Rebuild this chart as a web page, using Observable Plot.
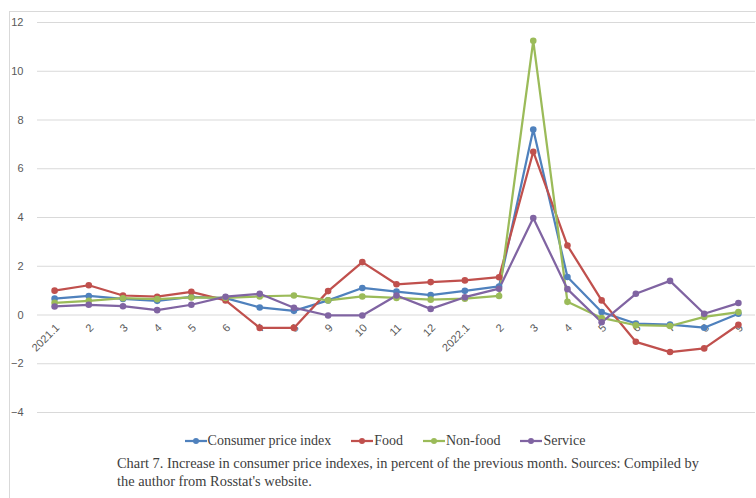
<!DOCTYPE html>
<html>
<head>
<meta charset="utf-8">
<script src="https://cdn.jsdelivr.net/npm/d3@7"></script>
<script src="https://cdn.jsdelivr.net/npm/@observablehq/plot@0.6"></script>
<style>
  html, body { margin: 0; padding: 0; background: #fff; }
  #wrap { position: relative; width: 756px; height: 498px; overflow: hidden; }
  #frame { position: absolute; left: 9px; top: 11px; width: 760px; height: 500px;
           border-left: 1px solid #d9d9d9; border-top: 1px solid #d9d9d9; }
  #chart { position: absolute; left: 0; top: 0; }
  #legend { position: absolute; left: 0; width: 770px; top: 433px; text-align: center;
            font-family: "Liberation Serif", serif; font-size: 14px; color: #404040; white-space: nowrap; }
  #legend span.item { display: inline-block; margin: 0 10px; }
  #legend svg { vertical-align: middle; margin-right: 1px; position: relative; top: -1px; }
  #caption { position: absolute; left: 117px; top: 454px; font-family: "Liberation Serif", serif;
             font-size: 14.4px; line-height: 18px; color: #404040; white-space: nowrap; }
</style>
</head>
<body>
<div id="wrap">
  <div id="frame"></div>
  <div id="chart"></div>
  <div id="legend"></div>
  <div id="caption">Chart 7. Increase in consumer price indexes, in percent of the previous month. Sources: Compiled by<br>the author from Rosstat's website.</div>
</div>
<script>
const monthLabels = ["2021.1","2","3","4","5","6","7","8","9","10","11","12","2022.1","2","3","4","5","6","7","8","9"];
const seriesNames = ["Consumer price index", "Food", "Non-food", "Service"];
const seriesColors = ["#4f81bd", "#c0504d", "#9bbb59", "#8064a2"];
const cpi     = [0.67, 0.78, 0.66, 0.58, 0.74, 0.69, 0.31, 0.17, 0.60, 1.11, 0.96, 0.82, 0.99, 1.17, 7.61, 1.56, 0.12, -0.35, -0.39, -0.52, 0.05];
const food    = [1.00, 1.22, 0.80, 0.75, 0.95, 0.60, -0.53, -0.53, 0.98, 2.17, 1.26, 1.35, 1.42, 1.55, 6.70, 2.85, 0.60, -1.10, -1.52, -1.37, -0.40];
const nonfood = [0.50, 0.58, 0.69, 0.65, 0.72, 0.70, 0.76, 0.80, 0.60, 0.76, 0.70, 0.63, 0.67, 0.78, 11.25, 0.54, -0.12, -0.42, -0.45, -0.08, 0.12];
const service = [0.35, 0.42, 0.36, 0.20, 0.42, 0.75, 0.87, 0.30, -0.02, -0.02, 0.80, 0.25, 0.73, 1.08, 3.98, 1.06, -0.30, 0.87, 1.40, 0.05, 0.49];
const yTicks = [-4, -2, 0, 2, 4, 6, 8, 10, 12];

const seriesValues = [cpi, food, nonfood, service];
const rows = [];
seriesNames.forEach((name, s) => seriesValues[s].forEach((v, i) => rows.push({series: name, i, v})));

const chart = Plot.plot({
  width: 756,
  height: 430,
  marginLeft: 37,
  marginRight: 1,
  marginTop: 22,
  marginBottom: 18,
  style: {fontFamily: "'Liberation Sans', sans-serif", fontSize: "11px", color: "#595959", background: "transparent"},
  x: {domain: [-0.5, monthLabels.length - 0.5], axis: null},
  y: {domain: [-4, 12], ticks: yTicks, tickSize: 0, tickPadding: 14, label: null, tickFormat: d => d},
  color: {domain: seriesNames, range: seriesColors},
  marks: [
    Plot.ruleY(yTicks, {stroke: "#d9d9d9", strokeWidth: 1}),
    Plot.axisY({ticks: yTicks, tickSize: 0, tickPadding: 14, label: null, fill: "#595959", textAnchor: "end"}),
    Plot.text(monthLabels, {x: (d, i) => i, y: () => 0, text: d => d, rotate: -45, textAnchor: "end",
      lineAnchor: "middle", dx: 3, dy: 11, fill: "#595959", fontSize: 11}),
    Plot.line(rows, {x: "i", y: "v", z: "series", stroke: "series", strokeWidth: 2.25}),
    Plot.dot(rows, {x: "i", y: "v", fill: "series", r: 3.3, stroke: "none"})
  ]
});
document.getElementById("chart").appendChild(chart);

const legend = document.getElementById("legend");
seriesNames.forEach((name, k) => {
  const item = document.createElement("span");
  item.className = "item";
  item.innerHTML = `<svg width="22" height="8"><line x1="0" y1="4" x2="22" y2="4" stroke="${seriesColors[k]}" stroke-width="2.25"/><circle cx="11" cy="4" r="3" fill="${seriesColors[k]}"/></svg>${name}`;
  legend.appendChild(item);
});
</script>
</body>
</html>
